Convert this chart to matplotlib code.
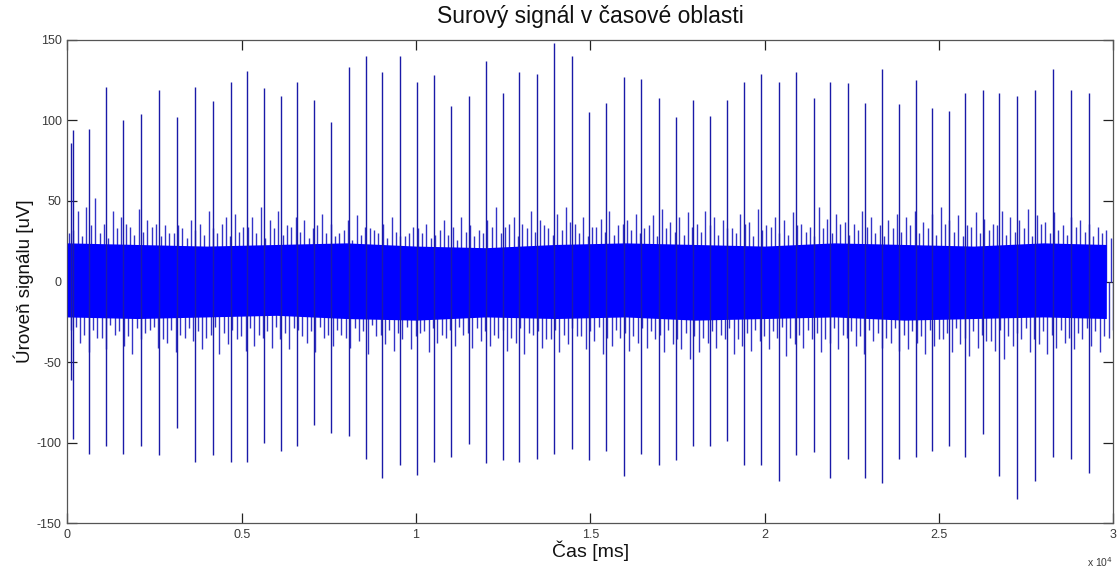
import numpy as np
import matplotlib
matplotlib.use("Agg")
import matplotlib.pyplot as plt

plt.rcParams['font.family'] = ['Liberation Sans', 'DejaVu Sans']

# ---- data ----
title = "Surový signál v časové oblasti"
xlabel = "Čas [ms]"
ylabel = "Úroveň signálu [uV]"

xtick_vals = [0, 5000, 10000, 15000, 20000, 25000, 30000]
xtick_labels = ["0", "0.5", "1", "1.5", "2", "2.5", "3"]
ytick_vals = [-150, -100, -50, 0, 50, 100, 150]
ytick_labels = ["-150", "-100", "-50", "0", "50", "100", "150"]

# spike times [ms], positive and negative peaks [uV]
spike_t = [115, 155, 631, 1110, 1589, 2105, 2621, 3146, 3662, 4179, 4686, 5163, 5650,
           6131, 6597, 7085, 7572, 8071, 8559, 9036, 9535, 10021, 10517, 11005, 11512, 12000,
           12485, 12963, 13462, 13967, 14483, 14971, 15458, 15966, 16463, 16962, 17449, 17937,
           18433, 18929, 19416, 19904, 20411, 20908, 21407, 21883, 22381, 22869, 23357, 23853,
           24329, 24807, 25278, 25755, 26253, 26730, 27237, 27753, 28278, 28795, 29311]
spike_hi = [86, 94, 95, 121, 100, 104, 119, 102, 121, 112, 124, 131, 120,
            115, 124, 113, 99, 133, 140, 130, 140, 124, 128, 109, 115, 137,
            117, 130, 129, 148, 140, 105, 111, 127, 126, 114, 102, 113,
            103, 113, 124, 129, 124, 130, 114, 124, 123, 111, 132, 110,
            125, 108, 106, 117, 119, 117, 115, 119, 132, 119, 117]
spike_lo = [-61, -98, -107, -102, -107, -102, -108, -91, -112, -108, -112, -112, -100,
            -105, -102, -89, -94, -96, -110, -122, -114, -120, -112, -109, -101, -113,
            -111, -112, -110, -107, -104, -111, -105, -121, -107, -114, -111, -102,
            -102, -99, -114, -114, -124, -108, -106, -122, -110, -122, -125, -110,
            -109, -105, -102, -109, -95, -121, -135, -124, -109, -110, -119]

# background noise: largest excursions per 250 ms window
noise_hi = [30, 44, 46, 52, 36, 44, 40, 34, 45, 38, 36, 35, 30, 33, 38, 36, 44, 30, 40, 42, 34, 40, 46, 38,
            44, 35, 40, 38, 33, 42, 36, 30, 38, 41, 34, 32, 36, 40, 28, 30, 33, 36, 29, 38, 34, 40, 35, 32,
            38, 46, 34, 40, 36, 44, 38, 33, 42, 46, 36, 40, 34, 39, 44, 35, 38, 42, 33, 41, 45, 37, 40, 43,
            36, 44, 40, 38, 33, 42, 37, 45, 35, 40, 38, 43, 36, 34, 46, 39, 42, 37, 36, 44, 40, 35, 38, 42,
            40, 44, 37, 42, 46, 38, 41, 35, 43, 39, 36, 44, 40, 38, 45, 41, 37, 43, 35, 40, 38, 36, 34, 32]
noise_lo = [-30, -38, -44, -35, -42, -33, -40, -45, -36, -30, -41, -38, -44, -35, -37, -42, -33, -45, -39, -36, -43, -40, -35, -41,
            -36, -42, -30, -38, -44, -35, -40, -33, -41, -37, -45, -34, -39, -43, -36, -42, -32, -44, -38, -35, -40, -33, -41, -37,
            -40, -35, -43, -38, -45, -33, -41, -36, -44, -39, -34, -42, -37, -45, -40, -35, -43, -38, -41, -36, -44, -39, -42, -48,
            -44, -38, -41, -36, -45, -40, -43, -37, -42, -35, -46, -39, -41, -36, -44, -38, -42, -35, -40, -45, -37, -41, -38, -43,
            -42, -38, -45, -40, -36, -44, -39, -46, -41, -37, -43, -48, -40, -36, -44, -39, -45, -41, -38, -42, -36, -40, -44, -35]
# secondary (smaller) excursions in the same windows
noise_hi2 = [32, 28, 35, 30, 27, 33, 36, 29, 31, 34, 28, 30, 35, 27, 32, 29, 33, 36, 28, 31, 34, 30, 27, 33,
             29, 34, 31, 27, 35, 30, 28, 32, 26, 29, 33, 30, 27, 31, 28, 34, 30, 27, 32, 29, 26, 31, 28, 30,
             34, 30, 36, 28, 33, 31, 35, 29, 32, 37, 30, 28, 34, 31, 29, 36, 32, 30, 35, 28, 33, 31, 29, 34,
             31, 35, 29, 33, 30, 36, 28, 32, 34, 30, 29, 35, 31, 28, 33, 30, 36, 29, 32, 34, 30, 28, 33, 31,
             35, 30, 33, 29, 36, 31, 28, 34, 30, 32, 35, 29, 31, 33, 28, 36, 30, 32, 29, 34, 31, 28, 30, 27]
noise_lo2 = [-28, -33, -30, -35, -27, -31, -34, -29, -32, -28, -36, -30, -33, -29, -31, -35, -28, -32, -30, -34, -29, -33, -31, -28,
             -32, -29, -34, -31, -28, -33, -30, -35, -29, -31, -27, -33, -30, -32, -28, -34, -31, -29, -33, -30, -28, -32, -29, -31,
             -33, -30, -35, -29, -32, -31, -36, -30, -33, -29, -34, -31, -28, -35, -30, -32, -34, -29, -31, -33, -30, -36, -32, -34,
             -35, -31, -33, -29, -36, -32, -30, -34, -31, -28, -35, -33, -30, -32, -36, -29, -33, -31, -34, -30, -32, -35, -29, -33,
             -31, -34, -30, -36, -32, -29, -35, -31, -33, -37, -30, -34, -32, -29, -36, -31, -33, -30, -35, -32, -29, -31, -34, -30]
noise_step = 250  # ms per window

# dense core of the noise band
core_t = [0, 2000, 4000, 6000, 8000, 10000, 12000, 14000, 16000, 18000, 20000, 22000, 24000, 26000, 28000, 29800]
core_hi = [24, 23, 22, 23, 24, 22, 21, 23, 24, 23, 22, 24, 23, 22, 24, 23]
core_lo = [-22, -23, -22, -21, -23, -24, -22, -23, -22, -24, -23, -22, -24, -23, -22, -23]

# ---- figure ----
fig = plt.figure(figsize=(11.18, 5.71), dpi=100)
ax = fig.add_axes([0.0602, 0.084, 0.9356, 0.846])

n = len(noise_hi)
win = np.arange(n) * noise_step
hair_col = (0.20, 0.20, 0.78)
ax.vlines(win + 0.20 * noise_step, 0, noise_hi, color=hair_col, lw=1.0, zorder=2)
ax.vlines(win + 0.70 * noise_step, 0, noise_hi2, color=hair_col, lw=1.0, zorder=2)
ax.vlines(win + 0.45 * noise_step, noise_lo, 0, color=hair_col, lw=1.0, zorder=2)
ax.vlines(win + 0.95 * noise_step, noise_lo2, 0, color=hair_col, lw=1.0, zorder=2)
ax.fill_between(core_t, core_lo, core_hi, color='#0000ff', lw=0, zorder=3)

# spikes
ax.vlines(spike_t, spike_lo, spike_hi, color='#1a1aa8', lw=1.0, zorder=4)

ax.set_xlim(0, 30000)
ax.set_ylim(-150, 150)
ax.set_xticks(xtick_vals)
ax.set_xticklabels(xtick_labels)
ax.set_yticks(ytick_vals)
ax.set_yticklabels(ytick_labels)

gray = '#3a3a3a'
for s in ax.spines.values():
    s.set_color('#555555')
    s.set_linewidth(0.9)
ax.tick_params(direction='in', length=7, width=0.9, colors='#222222',
               labelsize=9, top=True, right=True, pad=4, labelcolor=gray)

ax.set_title(title, fontsize=16.5, pad=12, color='#111111')
ax.set_xlabel(xlabel, fontsize=14, labelpad=0, color='#111111')
ax.set_ylabel(ylabel, fontsize=13.5, labelpad=2, color='#111111')
fig.text(0.9958, 0.003, r"x 10$^4$", ha='right', va='bottom', fontsize=7.5, color=gray)

fig.savefig("out.png", dpi=100)
